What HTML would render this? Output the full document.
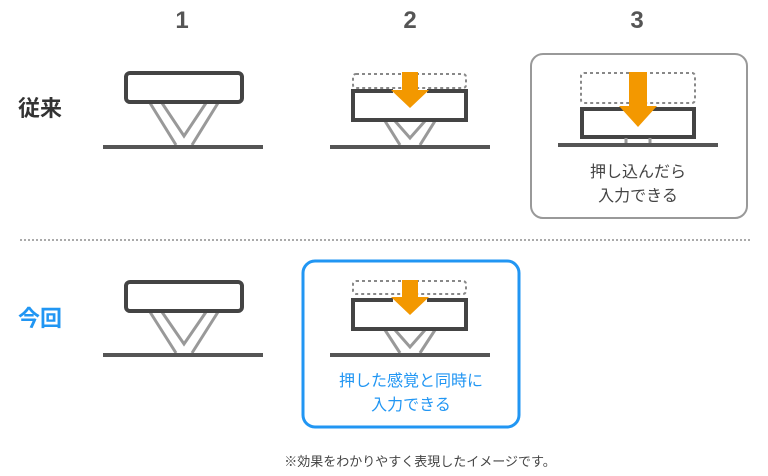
<!DOCTYPE html>
<html><head><meta charset="utf-8"><style>
body{margin:0;background:#fff;}
svg{display:block}
text{font-family:"Liberation Sans","Noto Sans CJK JP",sans-serif;}
</style></head><body>
<svg width="768" height="476" viewBox="0 0 768 476" xmlns="http://www.w3.org/2000/svg">
<g fill="#555" font-weight="bold" font-size="24" text-anchor="middle">
<text x="182" y="28">1</text><text x="410" y="28">2</text><text x="637" y="28">3</text>
</g>
<text x="18" y="116" font-size="22" font-weight="bold" fill="#333">従来</text>
<text x="18" y="326" font-size="22" font-weight="bold" fill="#2196f3">今回</text>

<!-- Row1 key1 -->
<path d="M150,103 L176,145 M192,145 L218,103 M162,103 L184,136 L206,103" fill="none" stroke="#999" stroke-width="3"/>
<rect x="126" y="73" width="116" height="29" rx="4" fill="#fff" stroke="#444" stroke-width="4"/>
<line x1="103" y1="147" x2="263" y2="147" stroke="#555" stroke-width="4"/>

<!-- Row1 key2 -->
<rect x="353" y="74" width="113" height="14" rx="3" fill="none" stroke="#888" stroke-width="2" stroke-dasharray="3,3"/>
<path d="M385,121 L400,145 M420,145 L435,121 M395,121 L410,138 L425,121" fill="none" stroke="#999" stroke-width="3"/>
<path d="M393,91 L353,91 L353,120 L466,120 L466,91 L427,91" fill="#fff" stroke="#444" stroke-width="4"/>
<line x1="330" y1="147" x2="490" y2="147" stroke="#555" stroke-width="4"/>
<path d="M402,72 L418,72 L418,90 L429,90 L410,108 L391,90 L402,90Z" fill="#f39800"/>

<!-- Box 3 -->
<rect x="531" y="54" width="216" height="164" rx="12" fill="#fff" stroke="#999" stroke-width="2"/>
<rect x="581" y="73" width="114" height="30" rx="3" fill="none" stroke="#888" stroke-width="2" stroke-dasharray="3,3"/>
<path d="M625,109 L582,109 L582,137 L694,137 L694,109 L650,109" fill="#fff" stroke="#444" stroke-width="4"/>
<path d="M626,138 L626,145 M650,138 L650,145" stroke="#999" stroke-width="3"/>
<line x1="558" y1="145" x2="718" y2="145" stroke="#555" stroke-width="4"/>
<path d="M629,72 L647,72 L647,106 L657,106 L638,127 L619,106 L629,106Z" fill="#f39800"/>
<g font-size="16" fill="#444" text-anchor="middle">
<text x="638" y="177">押し込んだら</text><text x="638" y="201">入力できる</text>
</g>

<line x1="20" y1="240" x2="752" y2="240" stroke="#aaa" stroke-width="2" stroke-dasharray="2,2"/>

<!-- Row2 key1 -->
<path d="M150,312 L176,353 M192,353 L218,312 M162,312 L184,344 L206,312" fill="none" stroke="#999" stroke-width="3"/>
<rect x="126" y="282" width="116" height="29" rx="4" fill="#fff" stroke="#444" stroke-width="4"/>
<line x1="103" y1="355" x2="263" y2="355" stroke="#555" stroke-width="4"/>

<!-- Blue box -->
<rect x="303" y="261" width="216" height="166" rx="12" fill="#fff" stroke="#2196f3" stroke-width="3"/>
<rect x="353" y="281" width="113" height="13" rx="3" fill="none" stroke="#888" stroke-width="2" stroke-dasharray="3,3"/>
<path d="M385,330 L400,353 M420,353 L435,330 M395,330 L410,347 L425,330" fill="none" stroke="#999" stroke-width="3"/>
<path d="M393,300 L353,300 L353,329 L466,329 L466,300 L427,300" fill="#fff" stroke="#444" stroke-width="4"/>
<line x1="330" y1="355" x2="490" y2="355" stroke="#555" stroke-width="4"/>
<path d="M402,280 L418,280 L418,297 L429,297 L410,315 L391,297 L402,297Z" fill="#f39800"/>
<g font-size="16" fill="#2196f3" text-anchor="middle">
<text x="411" y="386">押した感覚と同時に</text><text x="411" y="410">入力できる</text>
</g>

<text x="420" y="466" font-size="13" fill="#444" text-anchor="middle">※効果をわかりやすく表現したイメージです。</text>
</svg>
</body></html>
